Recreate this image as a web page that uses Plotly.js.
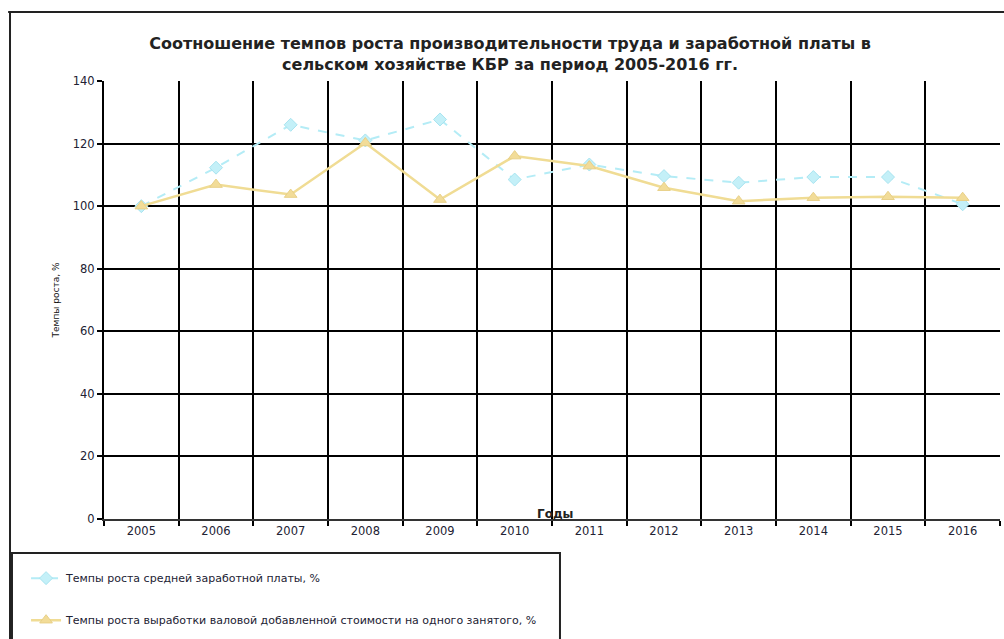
<!DOCTYPE html>
<html>
<head>
<meta charset="utf-8">
<script src="https://cdn.plot.ly/plotly-3.0.1.min.js"></script>
<style>html,body{margin:0;padding:0;background:#fff}#chart{width:1004px;height:639px}</style>
</head>
<body>
<div id="chart"></div>
<script>
var years = ["2005","2006","2007","2008","2009","2010","2011","2012","2013","2014","2015","2016"];
var wageGrowth = [100, 112.3, 126, 121, 127.7, 108.5, 113.3, 109.6, 107.5, 109.3, 109.3, 100.6];
var productivityGrowth = [100, 106.9, 103.7, 120.2, 102.1, 116, 112.8, 105.9, 101.6, 102.7, 103, 102.7];
var wageName = "Темпы роста средней заработной платы, %";
var prodName = "Темпы роста выработки валовой добавленной стоимости на одного занятого, %";
var titleText = "Соотношение темпов роста производительности труда и заработной платы в<br>сельском хозяйстве КБР за период 2005-2016 гг.";
var yTitle = "Темпы роста, %";
var xTitle = "Годы";

var FONT = "DejaVu Sans, Verdana, sans-serif";

var traces = [
  {x: years, y: wageGrowth, name: wageName, type: "scatter", mode: "lines+markers",
   line: {color: "#b4ecf6", width: 2, dash: "dash"},
   marker: {symbol: "diamond", size: 10, color: "#c4f0f8", line: {color: "#a8e4f0", width: 1}},
   legend: "legend"},
  {x: years, y: productivityGrowth, name: prodName, type: "scatter", mode: "lines+markers",
   line: {color: "#f0dc94", width: 2.5},
   marker: {symbol: "triangle-up", size: 11, color: "#f2dc98", line: {color: "#e8d088", width: 1}},
   legend: "legend2"}
];

var layout = {
  width: 1004, height: 639,
  margin: {l: 104, r: 4, t: 81, b: 120},
  paper_bgcolor: "#fff", plot_bgcolor: "#fff",
  font: {family: FONT, color: "#000", size: 10},
  title: {text: "<b>" + titleText + "</b>", x: 0.508, xref: "container", y: 0.923, yref: "container",
          yanchor: "middle", font: {size: 16, family: FONT, color: "#222"}},
  xaxis: {type: "category", tickson: "boundaries", showgrid: true, gridcolor: "#000", gridwidth: 2,
          ticks: "outside", ticklen: 5, tickcolor: "#000", tickwidth: 2,
          showline: true, linecolor: "#333", linewidth: 2, mirror: false,
          tickfont: {size: 11.5, color: "#223", family: FONT}, range: [-0.5, 11.5], fixedrange: true},
  yaxis: {range: [0, 140], dtick: 20, showgrid: true, gridcolor: "#000", gridwidth: 2,
          ticks: "outside", ticklen: 5, tickcolor: "#000", tickwidth: 2,
          showline: true, linecolor: "#000", linewidth: 2, zeroline: false,
          tickfont: {size: 11.5, color: "#223", family: FONT},
          title: {text: yTitle, font: {size: 9, color: "#111", family: FONT}, standoff: 12}},
  showlegend: true,
  legend: {x: -0.087, y: -0.135, xanchor: "left", yanchor: "middle",
           bgcolor: "rgba(0,0,0,0)", borderwidth: 0, font: {size: 11, color: "#223", family: FONT}},
  legend2: {x: -0.087, y: -0.231, xanchor: "left", yanchor: "middle",
           bgcolor: "rgba(0,0,0,0)", borderwidth: 0, font: {size: 11, color: "#223", family: FONT}},
  annotations: [
    {text: "<b>" + xTitle + "</b>", xref: "paper", yref: "paper", x: 0.503, y: 0.012,
     showarrow: false, font: {size: 12, color: "#222", family: FONT}, xanchor: "center", yanchor: "middle"}
  ],
  shapes: [
    {type: "line", xref: "paper", yref: "paper", x0: -0.107, x1: 1.01, y0: 1.1575, y1: 1.1575,
     line: {color: "#222", width: 2}},
    {type: "line", xref: "paper", yref: "paper", x0: -0.1049, x1: -0.1049, y0: 1.1575, y1: -0.3,
     line: {color: "#222", width: 2}},
    {type: "rect", xref: "paper", yref: "paper", x0: -0.1027, x1: 0.5089, y0: -0.0776, y1: -0.32,
     line: {color: "#222", width: 2}, fillcolor: "rgba(0,0,0,0)"}
  ]
};

Plotly.newPlot("chart", traces, layout, {displayModeBar: false, staticPlot: true});
</script>
</body>
</html>
